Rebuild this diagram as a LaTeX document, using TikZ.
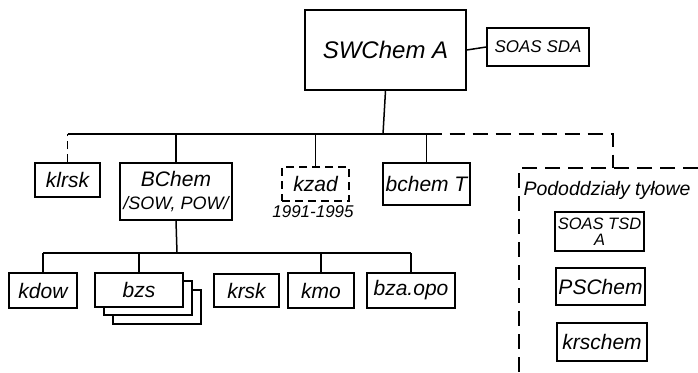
\documentclass[tikz,border=0pt]{standalone}
\usepackage{fontspec}
\setmainfont{Liberation Sans}
\usetikzlibrary{positioning}

\begin{document}
\begin{tikzpicture}[x=1pt,y=-1pt,line width=1.5pt,
  box/.style={draw,rectangle,fill=white,inner sep=0pt,align=center,
    font=\itshape\fontsize{21}{20}\selectfont},
  small/.style={font=\itshape\fontsize{17}{17}\selectfont},
  kreski/.style={dash pattern=on 15pt off 8pt},
  kreski2/.style={dash pattern=on 8pt off 5pt}]
\useasboundingbox (0,0) rectangle (698,372);

\node[box,minimum width=161pt,minimum height=80pt,font=\itshape\fontsize{24}{24}\selectfont] (swchem) at (385.5,50) {SWChem A};
\node[box,small,minimum width=102pt,minimum height=38pt] (sdasda) at (538,47) {SOAS SDA};

\node[box,minimum width=65pt,minimum height=34pt] (klrsk) at (67.5,180) {klrsk};
\node[box,minimum width=112pt,minimum height=57pt,font=\itshape\fontsize{18}{23}\selectfont] (bchem) at (176,191.5) {{\fontsize{21}{23}\selectfont BChem}\\/SOW, POW/};
\node[box,kreski2,minimum width=67pt,minimum height=34pt] (kzad) at (315.5,184) {kzad};
\node[small] (lata) at (313,212) {1991-1995};
\node[box,minimum width=87pt,minimum height=42pt] (bchemt) at (426.5,184) {bchem T};

\node[font=\itshape\fontsize{19.5}{19}\selectfont] (tylowe) at (607,190) {Pododdziały tyłowe};
\node[box,font=\itshape\fontsize{16.5}{16}\selectfont,minimum width=89pt,minimum height=39pt] (soastsd) at (599.5,231.5) {SOAS TSD\\A};
\node[box,minimum width=89pt,minimum height=37pt] (pschem) at (600.5,286.5) {PSChem};
\node[box,minimum width=90pt,minimum height=38pt] (krschem) at (602,342) {krschem};

\node[box,minimum width=68pt,minimum height=35pt] (kdow) at (43,290.5) {kdow};
\foreach \i/\dx/\dy in {3/18/17,2/9/8}
  \node[box,minimum width=88pt,minimum height=34pt] (bzs\i) at (139+\dx,290+\dy) {};
\node[box,minimum width=88pt,minimum height=34pt] (bzs) at (139,290) {bzs};
\node[box,minimum width=65pt,minimum height=33pt] (krsk) at (246.5,290.5) {krsk};
\node[box,minimum width=66pt,minimum height=35pt] (kmo) at (321,290.5) {kmo};
\node[box,minimum width=88pt,minimum height=35pt] (bzaopo) at (411,290.5) {bza.opo};

\coordinate (szyna) at (383,134);
\coordinate (szyna2) at (177,253);
\coordinate (zakret) at (613,134);
\coordinate (tyl) at (519,168);

\draw (swchem.east) -- (sdasda.west);
\draw (swchem.south) -- (szyna);
\draw (klrsk.north |- szyna) -- (bchemt.north |- szyna);
\draw[kreski2] (klrsk.north) -- (klrsk.north |- szyna);
\foreach \n in {bchem,kzad,bchemt}
  \draw (\n.north) -- (\n.north |- szyna);
\draw[kreski] (bchemt.north |- szyna) -- (zakret) -- (zakret |- tyl);
\draw[kreski] (698,168) -- (tyl) -- (519,372);

\draw (bchem.south) -- (szyna2);
\draw (kdow.north |- szyna2) -- (bzaopo.north |- szyna2);
\foreach \n in {kdow,bzs,kmo,bzaopo}
  \draw (\n.north) -- (\n.north |- szyna2);
\end{tikzpicture}
\end{document}
